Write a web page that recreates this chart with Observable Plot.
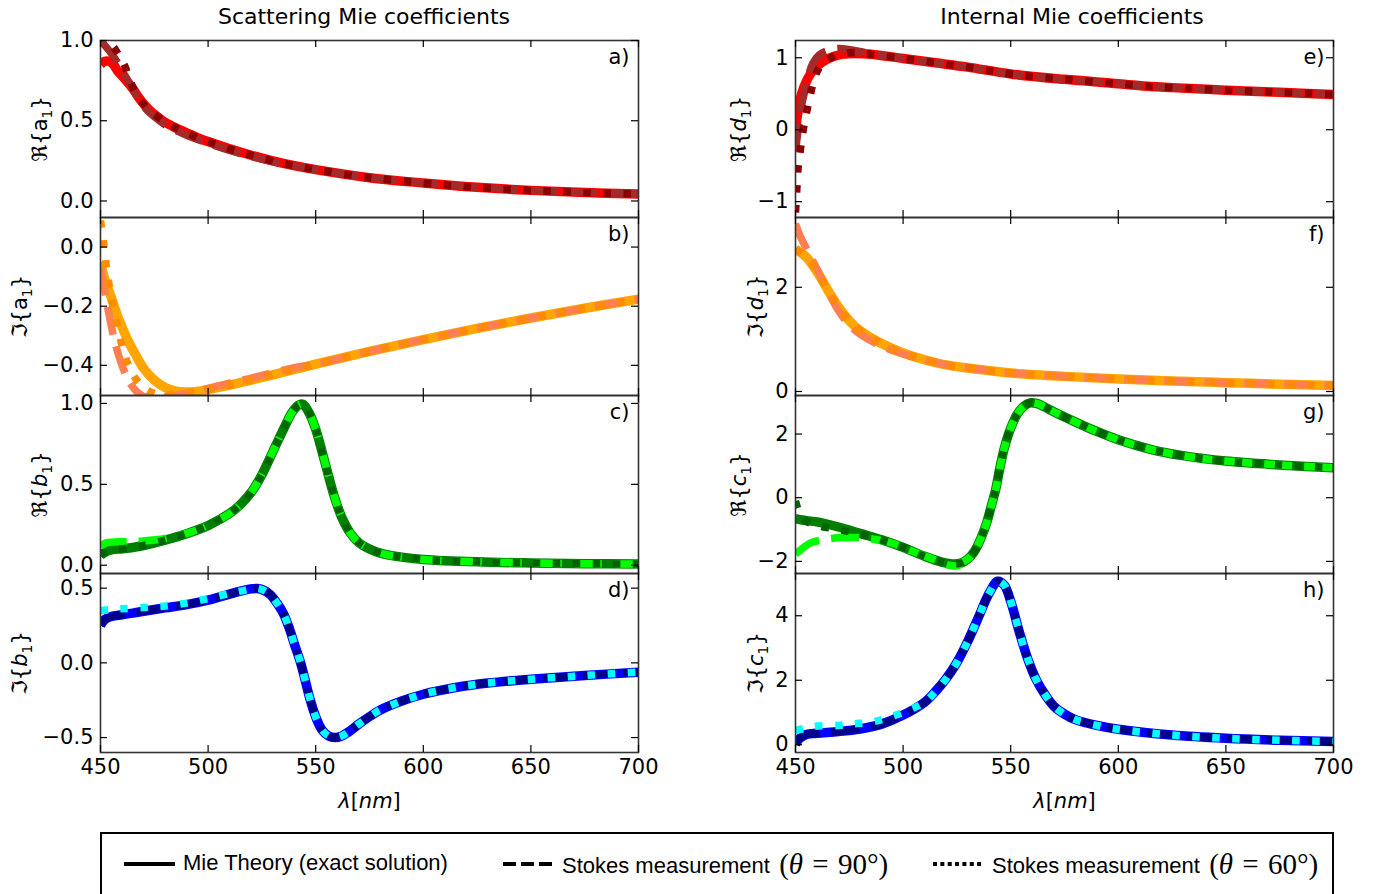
<!DOCTYPE html>
<html><head><meta charset="utf-8">
<script src="https://cdn.jsdelivr.net/npm/d3@7"></script>
<script src="https://cdn.jsdelivr.net/npm/@observablehq/plot@0.6"></script>
<style>
body{margin:0;background:#fff;}
#root{position:relative;width:1377px;height:894px;overflow:hidden;font-family:"DejaVu Sans";background:#fff;}
.panel{position:absolute;}
.title{position:absolute;font-size:22px;line-height:22px;color:#000;white-space:nowrap;transform:translateX(-50%);}
.leg{position:absolute;font-family:"Liberation Sans";font-size:22px;line-height:26px;white-space:nowrap;color:#000;}
.math{font-family:"Liberation Serif";font-size:29px;word-spacing:2px;position:relative;top:1px;}
</style></head><body><div id="root"></div>
<script>
// ---------- data ----------
const xTicks = [450, 500, 550, 600, 650, 700];

// a) Re{a1}
const reA1_mie = [[450,0.85],[452,0.87],[454,0.87],[456,0.85],[458,0.81],[460,0.78],[462,0.75],[465,0.70],[468,0.64],[471,0.59],[474,0.55],[477,0.52],[480,0.49],[485,0.455],[490,0.425],[495,0.395],[500,0.37],[510,0.325],[520,0.285],[530,0.25],[540,0.22],[550,0.195],[575,0.145],[600,0.112],[615,0.095],[625,0.085],[650,0.066],[675,0.053],[700,0.043]];
const reA1_s90_head = [[450,1.0],[452,0.97],[455,0.92],[458,0.86],[461,0.79],[465,0.7],[468,0.63],[471,0.575],[475,0.525],[480,0.475],[485,0.44],[490,0.41],[500,0.36],[510,0.315],[520,0.278],[530,0.245],[540,0.217]];
const reA1_s60_head = [[450,1.05],[453,1.0],[456,0.96],[458,0.92],[461,0.85],[465,0.71]];

// b) Im{a1}
const imA1_mie = [[450,-0.05],[452,-0.11],[455,-0.17],[458,-0.235],[460,-0.27],[463,-0.32],[466,-0.36],[470,-0.41],[475,-0.45],[480,-0.475],[485,-0.487],[490,-0.49],[495,-0.488],[500,-0.482],[510,-0.467],[520,-0.45],[530,-0.432],[540,-0.414],[550,-0.396],[575,-0.353],[600,-0.313],[625,-0.275],[650,-0.24],[675,-0.207],[700,-0.176]];
const imA1_s90_head = [[450,-0.07],[452,-0.15],[454,-0.23],[457,-0.33],[460,-0.4],[463,-0.45],[467,-0.49],[472,-0.51],[480,-0.505],[490,-0.495],[500,-0.478],[510,-0.46],[520,-0.443],[530,-0.425],[540,-0.408]];
const imA1_s60_head = [[450,0.09],[451,0.04],[452,-0.02],[453,-0.08],[455,-0.17],[458,-0.27],[461,-0.36],[465,-0.43],[470,-0.475],[475,-0.495],[480,-0.5],[485,-0.497],[490,-0.492]];

// c) Re{b1}
const reB1_mie = [[450,0.06],[452,0.08],[455,0.095],[460,0.102],[465,0.11],[470,0.122],[480,0.155],[490,0.195],[500,0.245],[505,0.28],[510,0.32],[515,0.375],[520,0.45],[525,0.56],[530,0.7],[535,0.84],[539,0.945],[542,0.99],[544,0.995],[547,0.94],[550,0.84],[553,0.7],[556,0.55],[559,0.41],[562,0.3],[566,0.2],[570,0.14],[575,0.1],[580,0.075],[590,0.05],[600,0.036],[625,0.021],[650,0.014],[675,0.01],[700,0.007]];
const reB1_s90_head = [[450,0.11],[452,0.135],[455,0.143],[460,0.145],[465,0.147],[470,0.15],[480,0.165],[490,0.197]];

// d) Im{b1}
const imB1_mie = [[450,0.25],[452,0.29],[455,0.31],[460,0.322],[465,0.333],[470,0.345],[480,0.368],[490,0.39],[500,0.42],[505,0.44],[510,0.46],[515,0.48],[520,0.495],[523,0.498],[526,0.485],[529,0.455],[532,0.4],[535,0.33],[538,0.22],[540,0.13],[543,0.0],[545,-0.11],[547.5,-0.25],[550.5,-0.38],[553,-0.45],[556,-0.49],[559,-0.5],[562,-0.49],[566,-0.455],[570,-0.41],[575,-0.36],[580,-0.315],[590,-0.255],[600,-0.21],[615,-0.165],[630,-0.135],[650,-0.11],[675,-0.085],[700,-0.062]];
const imB1_s60_head = [[450,0.35],[455,0.358],[460,0.362],[470,0.37],[480,0.38],[490,0.4],[500,0.43],[510,0.465]];

// e) Re{d1}
const reD1_mie = [[450,0.0],[451,0.22],[452,0.4],[454,0.6],[457,0.78],[460,0.88],[464,0.97],[468,1.02],[472,1.05],[478,1.06],[485,1.05],[500,0.99],[515,0.93],[530,0.87],[550,0.775],[575,0.7],[600,0.64],[615,0.6],[625,0.585],[650,0.55],[675,0.52],[700,0.49]];
const reD1_s90_head = [[450,-0.3],[451,-0.05],[452,0.2],[454,0.5],[456,0.75],[458,0.92],[461,1.04],[465,1.1],[470,1.13],[476,1.11],[485,1.06]];
const reD1_s60_head = [[450,-1.15],[450.3,-1.0],[450.7,-0.78],[451.2,-0.53],[452.3,-0.27],[453.6,0.0],[455.2,0.25],[457,0.5],[459.3,0.76],[462.5,0.92],[467,1.01],[472,1.06],[480,1.07]];

// f) Im{d1}
const imD1_mie = [[450,2.73],[455,2.58],[460,2.3],[465,1.95],[470,1.62],[475,1.36],[480,1.17],[490,0.92],[500,0.74],[510,0.61],[520,0.51],[530,0.45],[540,0.4],[550,0.355],[575,0.29],[600,0.24],[625,0.2],[650,0.17],[675,0.14],[700,0.115]];
const imD1_s90_head = [[450,3.22],[452,3.0],[455,2.75],[460,2.35],[465,1.93],[470,1.55],[475,1.28],[480,1.1],[490,0.87],[500,0.72]];

// g) Re{c1}
const reC1_mie = [[450,-0.66],[455,-0.72],[460,-0.76],[470,-0.92],[480,-1.12],[490,-1.32],[500,-1.56],[510,-1.84],[518,-2.02],[523,-2.08],[527,-2.05],[530,-1.93],[533,-1.7],[536,-1.3],[539,-0.75],[541,-0.25],[543,0.25],[545,0.95],[547,1.55],[549,2.0],[551,2.35],[553,2.62],[556,2.87],[559,2.98],[562,2.96],[566,2.84],[570,2.7],[580,2.38],[590,2.08],[600,1.82],[615,1.52],[630,1.32],[650,1.15],[675,1.03],[700,0.94]];
const reC1_s90_head = [[450,-1.78],[453,-1.6],[457,-1.42],[462,-1.33],[470,-1.26],[478,-1.25],[485,-1.29],[495,-1.43],[505,-1.7],[515,-1.96],[522,-2.13],[526,-2.12]];
const reC1_s60_head = [[450,-0.1],[452,-0.5],[455,-0.74],[460,-0.87],[470,-1.0],[480,-1.14],[490,-1.33]];

// h) Im{c1}
const imC1_mie = [[450,0.02],[452,0.2],[455,0.32],[460,0.36],[470,0.41],[480,0.49],[490,0.64],[500,0.92],[510,1.32],[515,1.65],[520,2.05],[525,2.55],[530,3.2],[535,3.95],[540,4.7],[544,5.07],[547,4.95],[550,4.45],[554,3.5],[558,2.65],[562,2.0],[566,1.55],[570,1.2],[575,0.95],[580,0.78],[590,0.6],[600,0.48],[625,0.3],[650,0.2],[675,0.14],[700,0.1]];
const imC1_s60_head = [[450,0.44],[455,0.52],[460,0.58],[470,0.6],[477,0.65],[485,0.7],[493,0.84],[502,1.06]];

function join(head, base) {
  const last = head[head.length - 1][0];
  return head.concat(base.filter(d => d[0] > last));
}

const panels = [
  {col:0,row:0,letter:"a)",domain:[-0.103,1.0],ticks:[0,0.5,1.0],dec:1,lab:["ℜ{","a",false,"1"],off:68,
   colors:["#ff0000","#a52a2a","#8b0000"],mie:reA1_mie,s90:join(reA1_s90_head,reA1_mie),s60:join(reA1_s60_head,reA1_mie)},
  {col:0,row:1,letter:"b)",domain:[-0.502,0.10],ticks:[-0.4,-0.2,0.0],dec:1,lab:["ℑ{","a",false,"1"],off:88,
   colors:["#ffa500","#ff7f50","#ff8c00"],mie:imA1_mie,s90:join(imA1_s90_head,imA1_mie),s60:join(imA1_s60_head,imA1_mie)},
  {col:0,row:2,letter:"c)",domain:[-0.051,1.049],ticks:[0,0.5,1.0],dec:1,lab:["ℜ{","b",true,"1"],off:68,
   colors:["#008000","#00ff00","#006400"],mie:reB1_mie,s90:join(reB1_s90_head,reB1_mie),s60:reB1_mie},
  {col:0,row:3,letter:"d)",domain:[-0.6,0.598],ticks:[-0.5,0,0.5],dec:1,lab:["ℑ{","b",true,"1"],off:88,
   colors:["#0000ff","#00008b","#00ffff"],mie:imB1_mie,s90:imB1_mie,s60:join(imB1_s60_head,imB1_mie)},
  {col:1,row:0,letter:"e)",domain:[-1.22,1.24],ticks:[-1,0,1],dec:0,lab:["ℜ{","d",true,"1"],off:64,
   colors:["#ff0000","#a52a2a","#8b0000"],mie:reD1_mie,s90:join(reD1_s90_head,reD1_mie),s60:join(reD1_s60_head,reD1_mie)},
  {col:1,row:1,letter:"f)",domain:[-0.077,3.34],ticks:[0,2],dec:0,lab:["ℑ{","d",true,"1"],off:47,
   colors:["#ffa500","#ff7f50","#ff8c00"],mie:imD1_mie,s90:join(imD1_s90_head,imD1_mie),s60:imD1_mie},
  {col:1,row:2,letter:"g)",domain:[-2.38,3.21],ticks:[-2,0,2],dec:0,lab:["ℜ{","c",true,"1"],off:64,
   colors:["#008000","#00ff00","#006400"],mie:reC1_mie,s90:join(reC1_s90_head,reC1_mie),s60:join(reC1_s60_head,reC1_mie)},
  {col:1,row:3,letter:"h)",domain:[-0.24,5.31],ticks:[0,2,4],dec:0,lab:["ℑ{","c",true,"1"],off:47,
   colors:["#0000ff","#00008b","#00ffff"],mie:imC1_mie,s90:imC1_mie,s60:join(imC1_s60_head,imC1_mie)}
];

// ---------- layout ----------
const root = document.getElementById("root");
const W = 660, ML = 100, MR = 22, PW = W - ML - MR;
const colLeft = [0, 695];
const rowTop = [40, 217, 395, 573], rowBot = [217, 395, 573, 752];
const NS = "http://www.w3.org/2000/svg";
const fmtTick = dec => d => (dec ? d.toFixed(dec) : String(d)).replace("-", "\u2212");

function tspan(parent, txt, attrs) {
  const t = document.createElementNS(NS, "tspan");
  t.textContent = txt;
  for (const k in attrs) t.setAttribute(k, attrs[k]);
  parent.appendChild(t);
}

for (const p of panels) {
  const top = rowTop[p.row], bot = rowBot[p.row], PH = bot - top;
  const mt = 8, mb = p.row === 3 ? 62 : 8;
  const line = (data, color, w, dash) => Plot.line(data, {
    x: d => d[0], y: d => d[1], stroke: color, strokeWidth: w,
    strokeDasharray: dash, strokeLinecap: "butt", strokeLinejoin: "round",
    curve: "catmull-rom", clip: true
  });
  const marks = [
    line(p.mie, p.colors[0], 9.5, null),
    line(p.s90, p.colors[1], 7.5, "28,12"),
    line(p.s60, p.colors[2], 7.5, "7.5,12.5"),
    Plot.frame({stroke: "#333", strokeWidth: 1.6}),
    Plot.tickY(p.ticks, {y: d => d, insetRight: PW - 7, stroke: "#000", strokeWidth: 1.2}),
    Plot.tickY(p.ticks, {y: d => d, insetLeft: PW - 7, stroke: "#000", strokeWidth: 1.2}),
    Plot.tickX(xTicks, {x: d => d, insetBottom: PH - 7, stroke: "#000", strokeWidth: 1.2}),
    Plot.tickX(xTicks, {x: d => d, insetTop: PH - 7, stroke: "#000", strokeWidth: 1.2}),
    Plot.axisY(p.ticks, {anchor: "left", tickSize: 0, tickPadding: 7, tickFormat: fmtTick(p.dec),
      label: "y", labelAnchor: "center", labelOffset: p.off}),
    Plot.text([p.letter], {text: d => d, frameAnchor: "top-right", dx: -9, dy: 9,
      lineAnchor: "top", textAnchor: "end", fill: "#000"})
  ];
  if (p.row === 3) {
    marks.push(Plot.axisX(xTicks, {anchor: "bottom", tickSize: 0, tickPadding: 7,
      tickFormat: d => String(d), label: "x", labelAnchor: "center", labelOffset: 55}));
  }
  const svg = Plot.plot({
    width: W, height: PH + mt + mb,
    marginLeft: ML, marginRight: MR, marginTop: mt, marginBottom: mb,
    style: {background: "transparent", fontFamily: "DejaVu Sans", fontSize: "21px", color: "#000", overflow: "visible"},
    x: {domain: [450, 700], axis: null},
    y: {domain: p.domain, axis: null},
    marks
  });
  const div = document.createElement("div");
  div.className = "panel";
  div.style.left = colLeft[p.col] + "px";
  div.style.top = (top - mt) + "px";
  div.appendChild(svg);
  root.appendChild(div);

  // rich y label
  const yl = svg.querySelector('g[aria-label="y-axis label"] text');
  if (yl) {
    yl.textContent = "";
    tspan(yl, p.lab[0], {});
    tspan(yl, p.lab[1], p.lab[2] ? {"font-style": "italic"} : {});
    tspan(yl, p.lab[3], {"font-size": "14px", dy: "5"});
    tspan(yl, "}", {dy: "-5"});
  }
  const xl = svg.querySelector('g[aria-label="x-axis label"] text');
  if (xl) {
    xl.textContent = "";
    tspan(xl, "λ", {"font-style": "italic"});
    tspan(xl, "[", {});
    tspan(xl, "nm", {"font-style": "italic"});
    tspan(xl, "]", {});
  }
}

// titles
const titles = [["Scattering Mie coefficients", 364], ["Internal Mie coefficients", 1072]];
for (const [t, cx] of titles) {
  const d = document.createElement("div");
  d.className = "title";
  d.textContent = t;
  d.style.left = cx + "px";
  d.style.top = "6px";
  root.appendChild(d);
}

// legend
const legendItems = [
  {x: 124, text: "Mie Theory (exact solution)", math: null, dash: null},
  {x: 503, text: "Stokes measurement", math: "90°", dash: "13,5"},
  {x: 933, text: "Stokes measurement", math: "60°", dash: "4,3.35"}
];
const box = document.createElement("div");
box.style.cssText = "position:absolute;left:100px;top:832px;width:1234px;height:90px;border:2px solid #000;box-sizing:border-box;";
root.appendChild(box);
for (const it of legendItems) {
  const s = document.createElementNS(NS, "svg");
  s.setAttribute("width", 52); s.setAttribute("height", 10);
  s.style.cssText = `position:absolute;left:${it.x}px;top:859px;`;
  const l = document.createElementNS(NS, "line");
  l.setAttribute("x1", 0); l.setAttribute("x2", 51); l.setAttribute("y1", 5); l.setAttribute("y2", 5);
  l.setAttribute("stroke", "#000"); l.setAttribute("stroke-width", 4);
  if (it.dash) l.setAttribute("stroke-dasharray", it.dash);
  s.appendChild(l);
  root.appendChild(s);
  const t = document.createElement("div");
  t.className = "leg";
  t.style.left = (it.x + 59) + "px";
  t.style.top = "850px";
  t.textContent = it.text;
  if (it.math) {
    const m = document.createElement("span");
    m.className = "math";
    m.innerHTML = ` (<i>θ</i> = ${it.math})`;
    t.appendChild(m);
  }
  root.appendChild(t);
}
</script></body></html>
